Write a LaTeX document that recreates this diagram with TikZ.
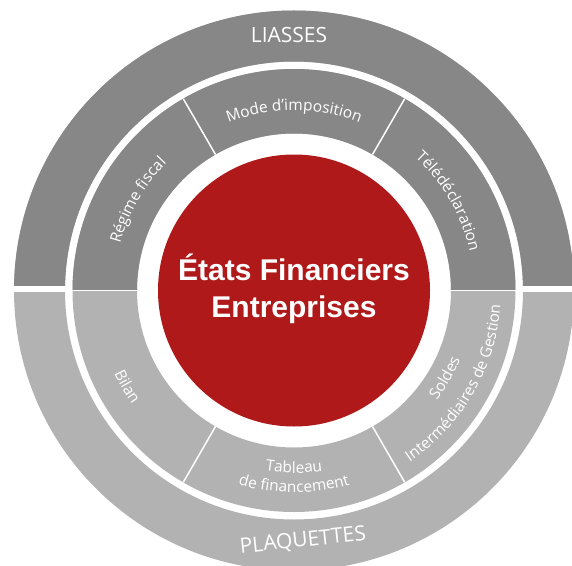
\documentclass[tikz,border=0pt]{standalone}
\usepackage{fontspec}
\setmainfont{Open Sans}
\newfontfamily\titlefont{Liberation Sans}
\usetikzlibrary{decorations.text}
\definecolor{liassegray}{HTML}{878787}
\definecolor{plaqgray}{HTML}{B2B2B2}
\definecolor{etatred}{HTML}{AF1919}
\tikzset{
  ringlabel/.style={white,inner sep=0pt,font=\fontsize{21}{25}\selectfont},
  sector/.style={decorate,decoration={text along path,text align=center,
    text color=white,text={|\fontsize{15.5}{18}\selectfont|#1}}},
  sepline/.style={white,line width=1.5},
  title/.style={white,inner sep=0pt,anchor=base,font=\titlefont\bfseries\fontsize{30}{36}\selectfont},
}
\begin{document}
\begin{tikzpicture}[x=1pt,y=1pt]
\useasboundingbox (-294,-274.5) rectangle (278,290.5);
\clip (-294,-274.5) rectangle (278,290.5);
\fill[plaqgray,even odd rule] (0,0) circle (280) circle (229);
\fill[liassegray] (180:280) arc (180:0:280) -- (0:229) arc (0:180:229) -- cycle;
\fill[white] (-290,-1.5) rectangle (290,4.8);
\fill[plaqgray,even odd rule] (0,0) circle (221.5) circle (157);
\fill[liassegray] (180:221.5) arc (180:0:221.5) -- (0:157) arc (0:180:157) -- cycle;
\fill[white] (-225,-0.8) rectangle (225,0.5);
\foreach \a in {60,120,240,300}
  \draw[sepline] (\a:157) -- (\a:221.5);
\node[circle,fill=etatred,minimum size=272,inner sep=0pt] (core) at (0,0) {};
\node[title] (etats) at (0,10.5) {États Financiers};
\node[title] (entreprises) at (0,-27) {Entreprises};
\node[ringlabel] (liasses) at (-5,255.5) {LIASSES};
\node[ringlabel,rotate=6] (plaquettes) at (9,-250.5) {PLAQUETTES};
\path[sector={Régime fiscal}] (180:180) arc (180:120:180);
\path[sector={Mode d’imposition}] (120:180) arc (120:60:180);
\path[sector={Télédéclaration}] (60:180) arc (60:0:180);
\path[sector={Bilan}] (180:198) arc (180:240:198);
\path[sector={Tableau}] (240:182.5) arc (240:300:182.5);
\path[sector={de financement}] (240:202) arc (240:300:202);
\path[sector={Soldes}] (300:180) arc (300:360:180);
\path[sector={Intermédiaires de Gestion}] (300:207) arc (300:360:207);
\end{tikzpicture}
\end{document}
